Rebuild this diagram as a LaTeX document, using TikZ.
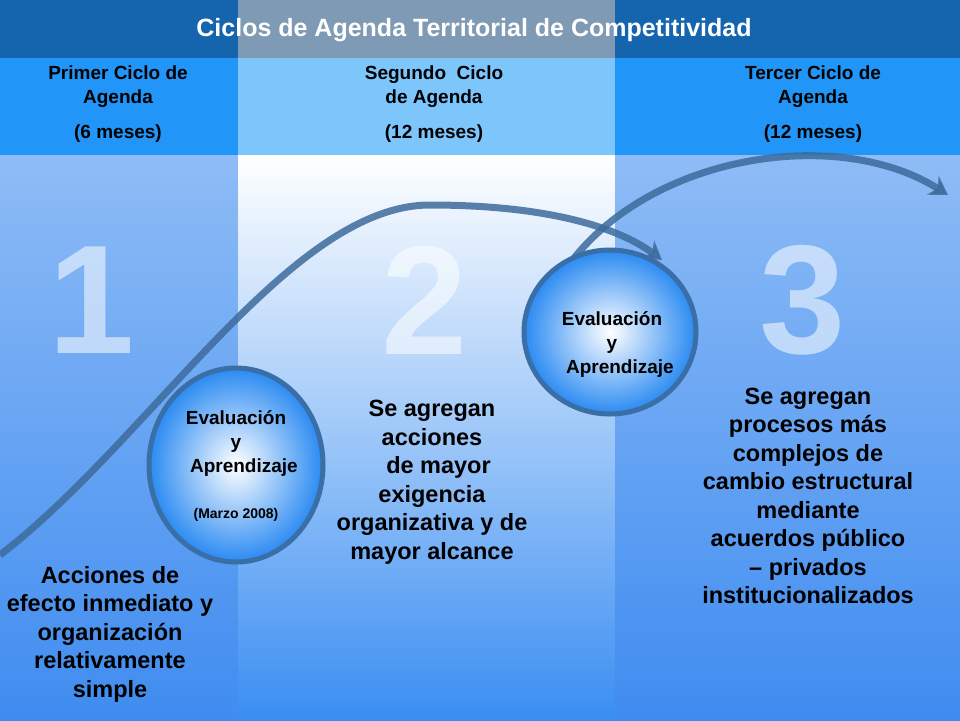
\documentclass[tikz,border=0pt]{standalone}
\usepackage{fontspec}
\setmainfont{Liberation Sans}
\usetikzlibrary{arrows.meta,shapes.geometric}
\definecolor{titlebar}{HTML}{1464AE}
\definecolor{titlemid}{HTML}{7F9AB4}
\definecolor{hdrside}{HTML}{2196F8}
\definecolor{hdrmid}{HTML}{7DC6FC}
\definecolor{sidetop}{HTML}{8EBCF6}
\definecolor{sidebot}{HTML}{3F8CF0}
\definecolor{midbot}{HTML}{3A8EF2}
\definecolor{arrowc}{HTML}{3D6B9C}
\definecolor{ringc}{HTML}{3A6EA6}
\definecolor{ballc}{HTML}{2A8AF2}
\tikzset{
  hdr/.style={font=\fontsize{19}{24}\selectfont\bfseries, align=center, text=black},
  body/.style={font=\fontsize{23.5}{28.5}\selectfont\bfseries, align=center, text=black},
  ball/.style={ellipse, draw=ringc, line width=5pt, inner color=white, outer color=ballc},
  balltext/.style={font=\fontsize{19}{24}\selectfont\bfseries, align=center},
  digit/.style={font=\fontsize{155}{155}\selectfont\bfseries, text=white, opacity=0.55},
  flow/.style={draw=arrowc, line width=7pt, opacity=0.85, -{Stealth[length=18pt,width=22pt]}}
}
\begin{document}
\begin{tikzpicture}[x=1pt,y=-1pt]
\useasboundingbox (0,0) rectangle (960,720);
% body columns
\shade[top color=sidetop, bottom color=sidebot] (0,155) rectangle (238,720);
\shade[top color=white, bottom color=midbot] (238,155) rectangle (615,720);
\shade[top color=sidetop, bottom color=sidebot] (615,155) rectangle (960,720);
% header
\fill[titlebar] (0,0) rectangle (960,58);
\fill[titlemid] (238,0) rectangle (615,58);
\fill[hdrside] (0,58) rectangle (238,155);
\fill[hdrmid] (238,58) rectangle (615,155);
\fill[hdrside] (615,58) rectangle (960,155);
\node[font=\fontsize{25}{28}\selectfont\bfseries, text=white] (title) at (474,30) {Ciclos de Agenda Territorial de Competitividad};
\node[hdr] (h1) at (118,87) {Primer Ciclo de\\Agenda};
\node[hdr] (m1) at (118,134) {(6 meses)};
\node[hdr] (h2) at (434,87) {Segundo\ \ Ciclo\\de Agenda};
\node[hdr] (m2) at (434,134) {(12 meses)};
\node[hdr] (h3) at (813,87) {Tercer Ciclo de\\Agenda};
\node[hdr] (m3) at (813,134) {(12 meses)};
% digits
\node[digit] (d1) at (92,300) {1};
\node[digit] (d2) at (425,300) {2};
\node[digit] (d3) at (803,300) {3};
% arrows
\coordinate (a1s) at (0,555);
\coordinate (a1p) at (430,205);
\coordinate (a1e) at (662,260);
\coordinate (a2s) at (552,292);
\coordinate (a2e) at (948,195);
\draw[flow] (a1s) .. controls (150,440) and (290,205) .. (a1p) .. controls (540,205) and (615,225) .. (a1e);
% circles
\node[ball, minimum width=174pt, minimum height=194pt] (c1) at (236,465) {};
\node[balltext] (c1t) at (236,443) {Evaluación\\y\\\ \ \ Aprendizaje};
\node[font=\fontsize{14}{16}\selectfont\bfseries] (c1d) at (236,515) {(Marzo 2008)};
\draw[flow] (a2s) .. controls (620,160) and (830,120) .. (a2e);
\node[ball, minimum width=172pt, minimum height=164pt] (c2) at (610,332) {};
\node[balltext] (c2t) at (612,344) {Evaluación\\y\\\ \ \ Aprendizaje};
% body texts
\node[body] (t1) at (110,634) {Acciones de\\efecto inmediato y\\organización\\relativamente\\simple};
\node[body] (t2) at (432,482) {Se agregan\\acciones\\\ \ de mayor\\exigencia\\organizativa y de\\mayor alcance};
\node[body] (t3) at (808,496) {Se agregan\\procesos más\\complejos de\\cambio estructural\\mediante\\acuerdos público\\– privados\\institucionalizados};
\end{tikzpicture}
\end{document}
